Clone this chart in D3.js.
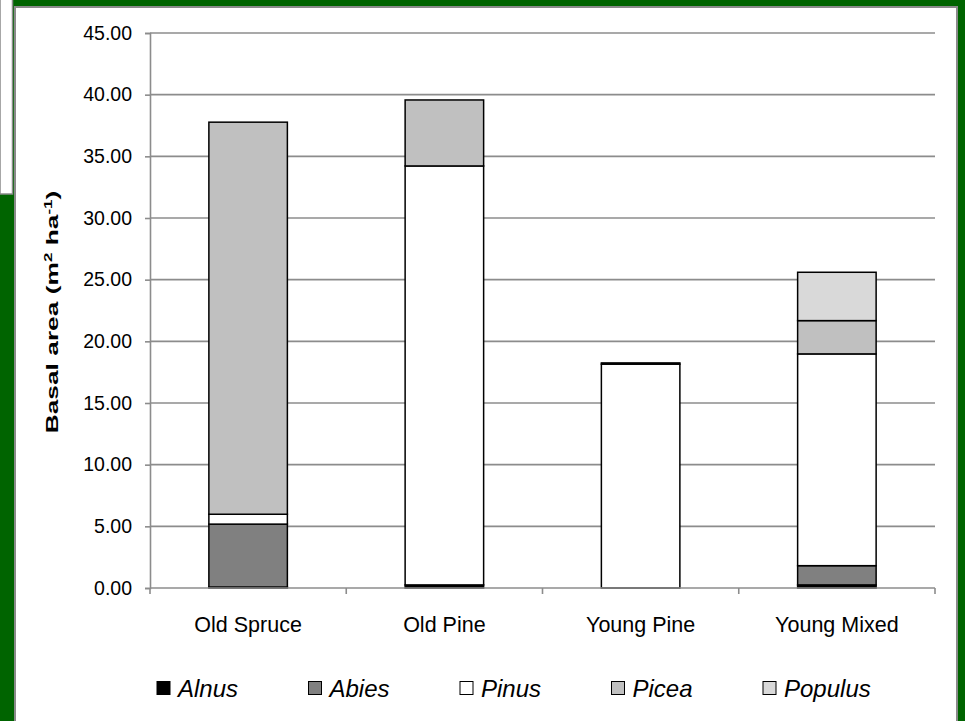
<!DOCTYPE html>
<html>
<head>
<meta charset="utf-8">
<script src="https://cdn.jsdelivr.net/npm/d3@7"></script>
<style>
  html, body { margin: 0; padding: 0; background: #006400; }
  svg { display: block; }
  text { font-family: "Liberation Sans", Arial, sans-serif; }
</style>
</head>
<body>
<svg id="chart" width="965" height="721"></svg>
<script>
// Stand types and basal area (m² ha⁻¹) per genus
const categories = ["Old Spruce", "Old Pine", "Young Pine", "Young Mixed"];
const species = ["Alnus", "Abies", "Pinus", "Picea", "Populus"];
const alnus   = [0.08, 0.25, 0.00, 0.25];
const abies   = [5.10, 0.00, 0.00, 1.56];
const pinus   = [0.80, 33.97, 18.15, 17.17];
const picea   = [31.79, 5.35, 0.10, 2.70];
const populus = [0.00, 0.00, 0.00, 3.92];
const yTicks = [0, 5, 10, 15, 20, 25, 30, 35, 40, 45];
const fills = ["#000000", "#808080", "#ffffff", "#c0c0c0", "#d9d9d9"];

const seriesValues = [alnus, abies, pinus, picea, populus];
const rows = categories.map((c, i) => {
  const r = { category: c };
  species.forEach((s, k) => { r[s] = seriesValues[k][i]; });
  return r;
});

const FONT = "'Liberation Sans', Arial, sans-serif";
const svg = d3.select("#chart");

// Background panels
svg.append("rect").attr("x", 0).attr("y", -2).attr("width", 12.5).attr("height", 196)
  .attr("fill", "#fff").attr("stroke", "#8a8a8a").attr("stroke-width", 1.5);
svg.append("rect").attr("x", 15).attr("y", 7).attr("width", 942).attr("height", 730)
  .attr("fill", "#fff").attr("stroke", "#8a8a8a").attr("stroke-width", 2);

const plotLeft = 150, plotRight = 935, plotTop = 33, plotBottom = 588;

const x = d3.scaleBand().domain(categories).range([plotLeft, plotRight]).padding(0);
const y = d3.scaleLinear().domain([0, 45]).range([plotBottom, plotTop]);
const color = d3.scaleOrdinal().domain(species).range(fills);

// Horizontal gridlines
svg.append("g").selectAll("line").data(yTicks.filter(t => t > 0)).join("line")
  .attr("x1", plotLeft).attr("x2", plotRight)
  .attr("y1", d => y(d)).attr("y2", d => y(d))
  .attr("stroke", "#8c8c8c").attr("stroke-width", 1.6);

// Stacked bars
const stacked = d3.stack().keys(species)(rows);
const bw = x.bandwidth();
svg.append("g").selectAll("g").data(stacked).join("g")
  .attr("fill", d => color(d.key))
  .selectAll("rect").data(d => d.filter(p => p[1] - p[0] > 0)).join("rect")
  .attr("x", d => x(d.data.category) + bw * 0.3)
  .attr("width", bw * 0.4)
  .attr("y", d => y(d[1]))
  .attr("height", d => y(d[0]) - y(d[1]))
  .attr("stroke", "#000").attr("stroke-width", 1.5);

// Y axis
const yAxis = svg.append("g").attr("transform", `translate(${plotLeft},0)`)
  .call(d3.axisLeft(y).tickValues(yTicks).tickFormat(d3.format(".2f")).tickSize(5).tickPadding(13));
yAxis.select(".domain").attr("stroke", "#8c8c8c").attr("stroke-width", 1.6);
yAxis.selectAll(".tick line").attr("stroke", "#8c8c8c").attr("stroke-width", 1.6);
yAxis.selectAll(".tick text").attr("font-size", 19.5).attr("fill", "#000")
  .attr("font-family", FONT);

// X axis with category boundary ticks
const xAxis = svg.append("g").attr("transform", `translate(0,${plotBottom})`)
  .call(d3.axisBottom(x).tickSize(0).tickPadding(29));
xAxis.select(".domain").attr("stroke", "#8c8c8c").attr("stroke-width", 1.6)
  .attr("d", `M${plotLeft},0H${plotRight}`);
xAxis.selectAll(".tick text").attr("font-size", 21.5).attr("fill", "#000")
  .attr("font-family", FONT);
const bounds = categories.map(c => x(c)).concat([plotRight]);
xAxis.append("g").selectAll("line").data(bounds).join("line")
  .attr("x1", d => d).attr("x2", d => d).attr("y1", 0).attr("y2", 6)
  .attr("stroke", "#8c8c8c").attr("stroke-width", 1.6);

// Y axis title (drawn elongated along its reading direction)
const title = svg.append("text")
  .attr("transform", `translate(58,312) rotate(-90) scale(1.55,1)`)
  .attr("text-anchor", "middle").attr("font-family", FONT)
  .attr("font-size", 17).attr("font-weight", "bold").attr("fill", "#000");
title.append("tspan").text("Basal area (m");
title.append("tspan").text("2").attr("font-size", 11).attr("dy", -6.5);
title.append("tspan").text(" ha").attr("dy", 6.5);
title.append("tspan").text("-1").attr("font-size", 11).attr("dy", -6.5);
title.append("tspan").text(")").attr("dy", 6.5);

// Legend
const legend = svg.append("g").selectAll("g").data(species).join("g")
  .attr("transform", (d, i) => `translate(${157 + i * 151.5},688)`);
legend.append("rect").attr("x", 0).attr("y", -6.5).attr("width", 13).attr("height", 13)
  .attr("fill", d => color(d)).attr("stroke", "#000").attr("stroke-width", 1);
legend.append("text").attr("x", 21).attr("y", 0).attr("dy", "0.36em")
  .attr("font-family", FONT)
  .attr("font-size", 24).attr("font-style", "italic").attr("fill", "#000")
  .text(d => d);
</script>
</body>
</html>
